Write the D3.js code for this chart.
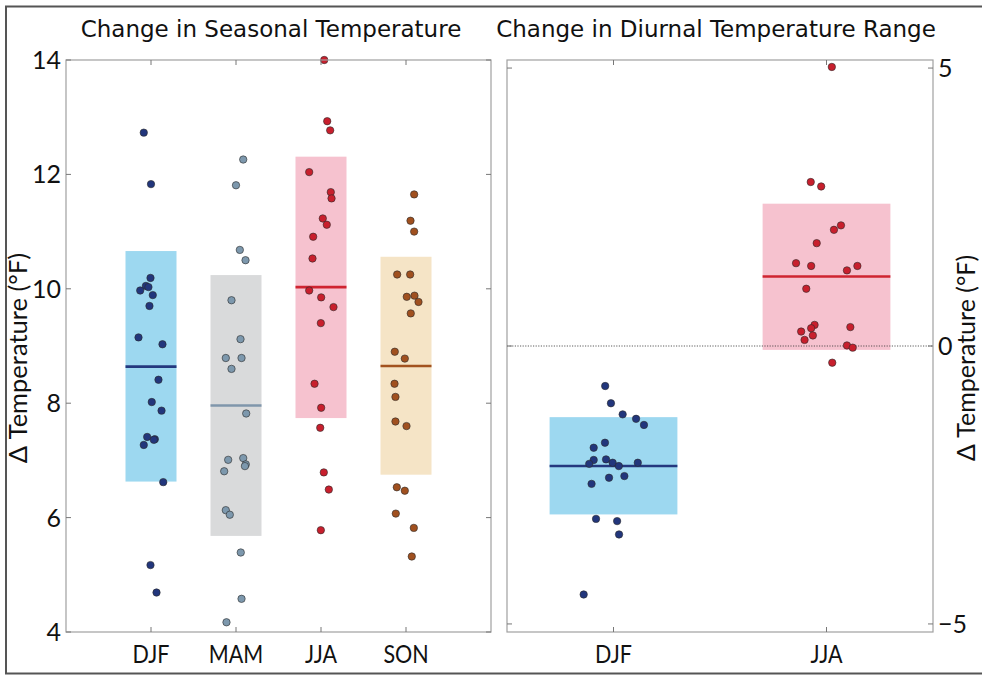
<!DOCTYPE html>
<html><head><meta charset="utf-8">
<script src="https://cdn.jsdelivr.net/npm/d3@7"></script>
<style>
html,body{margin:0;padding:0;background:#fff;}
svg{display:block;}
</style></head>
<body>
<svg id="chart" width="982" height="675"></svg>
<script>
// ---------- DATA ----------
const seasonCats = ["DJF", "MAM", "JJA", "SON"];
const seasonBoxLow = [6.63, 5.68, 7.74, 6.75];
const seasonBoxHigh = [10.66, 10.24, 12.31, 10.56];
const seasonMedian = [8.64, 7.96, 10.03, 8.65];
const djfVals = [12.73, 11.83, 10.19, 10.05, 10.03, 9.97, 9.89, 9.70, 9.15, 9.03, 8.41, 8.02, 7.87, 7.41, 7.37, 7.36, 7.27, 6.62, 5.17, 4.69];
const djfJit  = [-0.085, 0.0, -0.006, -0.06, -0.03, -0.127, 0.021, -0.018, -0.147, 0.135, 0.088, 0.009, 0.124, -0.045, 0.045, 0.033, -0.085, 0.144, -0.006, 0.065];
const mamVals = [12.26, 11.81, 10.68, 10.50, 9.80, 9.12, 8.79, 8.79, 8.60, 7.82, 7.01, 7.04, 6.93, 6.90, 6.81, 6.13, 6.05, 5.39, 4.58, 4.17];
const mamJit  = [0.085, 0.0, 0.045, 0.112, -0.053, 0.053, -0.12, 0.065, -0.053, 0.12, -0.092, 0.085, 0.115, 0.105, -0.139, -0.12, -0.073, 0.056, 0.065, -0.112];
const jjaVals = [14.0, 12.93, 12.77, 12.04, 11.69, 11.58, 11.23, 11.12, 10.91, 10.53, 9.97, 9.85, 9.68, 9.40, 8.34, 7.92, 7.57, 6.79, 6.49, 5.78];
const jjaJit  = [0.038, 0.073, 0.108, -0.139, 0.115, 0.124, 0.021, 0.068, -0.092, -0.1, -0.139, 0.002, 0.147, -0.002, -0.076, 0.002, -0.009, 0.033, 0.092, -0.002];
const sonVals = [11.65, 11.19, 11.00, 10.25, 10.25, 9.86, 9.88, 9.77, 9.57, 8.90, 8.78, 8.34, 8.11, 7.68, 7.60, 6.53, 6.47, 6.07, 5.82, 5.32];
const sonJit  = [0.096, 0.053, 0.096, -0.104, 0.049, 0.009, 0.1, 0.147, 0.056, -0.132, -0.014, -0.135, -0.124, -0.124, 0.006, -0.108, -0.014, -0.12, 0.092, 0.068];
const seasonTicks = [4, 6, 8, 10, 12, 14];

const dtrCats = ["DJF", "JJA"];
const dtrBoxLow = [-3.03, -0.07];
const dtrBoxHigh = [-1.28, 2.56];
const dtrMedian = [-2.16, 1.25];
const dtrDjfVals = [-0.72, -1.03, -1.23, -1.31, -1.42, -1.74, -1.83, -2.05, -2.04, -2.12, -2.10, -2.16, -2.10, -2.37, -2.34, -2.48, -3.11, -3.15, -3.39, -4.47];
const dtrDjfJit  = [-0.039, -0.012, 0.043, 0.106, 0.143, -0.04, -0.093, -0.093, -0.035, -0.114, -0.004, 0.025, 0.114, -0.021, 0.051, -0.103, -0.082, 0.017, 0.026, -0.14];
const dtrJjaVals = [5.02, 2.95, 2.87, 2.17, 2.09, 1.85, 1.49, 1.44, 1.44, 1.36, 1.03, 0.38, 0.32, 0.34, 0.26, 0.19, 0.11, 0.01, -0.03, -0.30];
const dtrJjaJit  = [0.025, -0.074, -0.025, 0.068, 0.035, -0.046, -0.143, -0.072, 0.145, 0.096, -0.095, -0.056, -0.072, 0.112, -0.119, -0.064, -0.103, 0.096, 0.123, 0.027];
const dtrTicks = [-5, 0, 5];

// ---------- STYLE ----------
const boxFill = {DJF: "#9dd8f0", MAM: "#d9dadb", JJA: "#f6c2cf", SON: "#f5e4c6"};
const dotFill = {DJF: "#22367c", MAM: "#7d98ad", JJA: "#c81f2d", SON: "#a0501f"};
const medCol  = {DJF: "#24387e", MAM: "#7f96ab", JJA: "#cf2431", SON: "#a2521f"};
const axisCol = "#a0a0a0";
const tickFont = "Lato, 'Open Sans', sans-serif";
const titleFont = "'DejaVu Sans', sans-serif";
const tickSize = 25;

const svg = d3.select("#chart");

// outer frame
svg.append("rect").attr("x", 6).attr("y", 6.5).attr("width", 990).attr("height", 667)
  .attr("fill", "none").attr("stroke", "#555").attr("stroke-width", 2);

const plotTop = 60, plotBottom = 632;

function panel(opts) {
  const g = svg.append("g");
  const x = d3.scaleLinear().domain(opts.xDomain).range(opts.xRange);
  const y = d3.scaleLinear().domain(opts.yDomain).range([plotBottom, plotTop]);
  const band = opts.halfWidth;

  opts.cats.forEach((c, i) => {
    g.append("rect")
      .attr("x", x(i + 1 - band)).attr("width", x(i + 1 + band) - x(i + 1 - band))
      .attr("y", y(opts.high[i])).attr("height", y(opts.low[i]) - y(opts.high[i]))
      .attr("fill", boxFill[c]);
  });
  if (opts.zeroLine) {
    g.append("line").attr("x1", opts.xRange[0]).attr("x2", opts.xRange[1])
      .attr("y1", y(0)).attr("y2", y(0))
      .attr("stroke", "#333").attr("stroke-width", 0.8).attr("stroke-dasharray", "1.2,1.4");
  }
  opts.cats.forEach((c, i) => {
    g.append("line")
      .attr("x1", x(i + 1 - band)).attr("x2", x(i + 1 + band))
      .attr("y1", y(opts.med[i])).attr("y2", y(opts.med[i]))
      .attr("stroke", medCol[c]).attr("stroke-width", 2.6);
  });

  const ax = svg.append("g");
  ax.append("rect").attr("x", opts.xRange[0]).attr("y", plotTop)
    .attr("width", opts.xRange[1] - opts.xRange[0]).attr("height", plotBottom - plotTop)
    .attr("fill", "none").attr("stroke", axisCol).attr("stroke-width", 1.2);
  const tl = 5;
  opts.cats.forEach((c, i) => {
    const xx = x(i + 1);
    ax.append("line").attr("x1", xx).attr("x2", xx).attr("y1", plotBottom).attr("y2", plotBottom - tl).attr("stroke", "#777");
    ax.append("line").attr("x1", xx).attr("x2", xx).attr("y1", plotTop).attr("y2", plotTop + tl).attr("stroke", "#777");
    ax.append("text").attr("transform", `translate(${xx},663) scale(0.86,1)`).attr("text-anchor", "middle")
      .attr("font-family", tickFont).attr("font-size", tickSize).attr("fill", "#111").text(c);
  });
  opts.yTicks.forEach(t => {
    const yy = y(t);
    ax.append("line").attr("x1", opts.xRange[0]).attr("x2", opts.xRange[0] + tl).attr("y1", yy).attr("y2", yy).attr("stroke", "#777");
    ax.append("line").attr("x1", opts.xRange[1]).attr("x2", opts.xRange[1] - tl).attr("y1", yy).attr("y2", yy).attr("stroke", "#777");
    const lx = opts.labelRight ? opts.xRange[1] + 5 : opts.xRange[0] - 5;
    ax.append("text").attr("x", lx).attr("y", yy).attr("dy", "0.36em")
      .attr("text-anchor", opts.labelRight ? "start" : "end")
      .attr("font-family", tickFont).attr("font-size", tickSize).attr("fill", "#111")
      .text(t < 0 ? "\u2212" + Math.abs(t) : t);
  });

  opts.series.forEach((s, i) => {
    const c = opts.cats[i];
    g.selectAll(null).data(s.vals.map((v, k) => ({v, j: s.jit[k]})))
      .enter().append("circle")
      .attr("cx", d => x(i + 1 + d.j)).attr("cy", d => y(d.v)).attr("r", 3.7)
      .attr("fill", dotFill[c]).attr("stroke", "#2a2a2a").attr("stroke-width", 0.6);
  });

  svg.append("text").attr("x", opts.titleX).attr("y", 37).attr("text-anchor", "middle")
    .attr("font-family", titleFont).attr("font-size", 23).attr("fill", "#111").text(opts.title);
}

panel({
  cats: seasonCats, xDomain: [0, 5], xRange: [66, 491], yDomain: [4, 14],
  halfWidth: 0.3, low: seasonBoxLow, high: seasonBoxHigh, med: seasonMedian,
  yTicks: seasonTicks, labelRight: false,
  series: [{vals: djfVals, jit: djfJit}, {vals: mamVals, jit: mamJit}, {vals: jjaVals, jit: jjaJit}, {vals: sonVals, jit: sonJit}],
  title: "Change in Seasonal Temperature", titleX: 271
});
panel({
  cats: dtrCats, xDomain: [0.5, 2.5], xRange: [507, 933], yDomain: [-5.145, 5.145],
  halfWidth: 0.3, low: dtrBoxLow, high: dtrBoxHigh, med: dtrMedian,
  yTicks: dtrTicks, labelRight: true, zeroLine: true,
  series: [{vals: dtrDjfVals, jit: dtrDjfJit}, {vals: dtrJjaVals, jit: dtrJjaJit}],
  title: "Change in Diurnal Temperature Range", titleX: 716
});

svg.append("text").attr("transform", "translate(27,358) rotate(-90)").attr("text-anchor", "middle")
  .attr("font-family", tickFont).attr("font-size", 25.5).attr("fill", "#111").text("\u0394 Temperature (\u00B0F)");
svg.append("text").attr("transform", "translate(975,358) rotate(-90)").attr("text-anchor", "middle")
  .attr("font-family", tickFont).attr("font-size", 25).attr("fill", "#111").text("\u0394 Temperature (\u00B0F)");
</script>
</body></html>
